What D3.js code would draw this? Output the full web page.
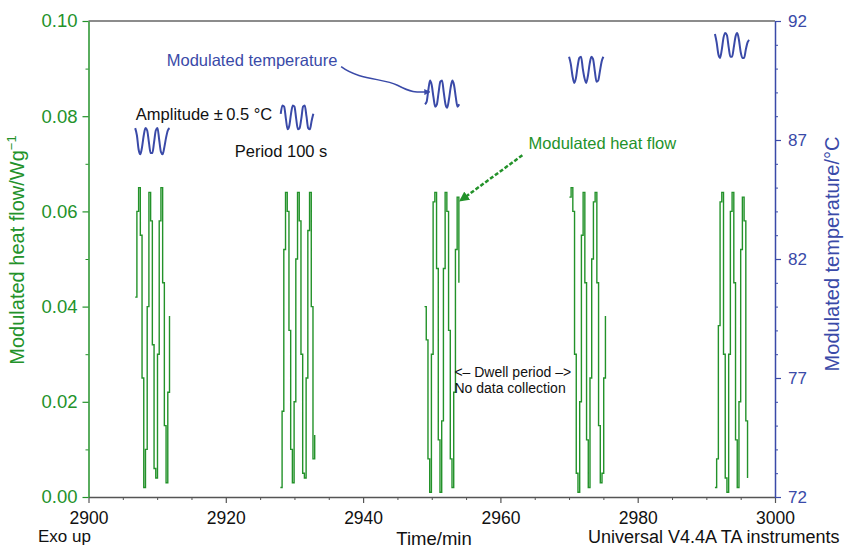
<!DOCTYPE html>
<html>
<head>
<meta charset="utf-8">
<script src="https://cdn.jsdelivr.net/npm/d3@7"></script>
<style>
  body { margin: 0; background: #fff; }
  svg text { font-family: "Liberation Sans", Arial, Helvetica, sans-serif; }
</style>
</head>
<body>
<div id="container"></div>
<script>
// sampling of the traces (min)
const sampleStep = 0.25

// modulated heat flow, one array per isothermal step (W/g)
const heatStart = [2906.8, 2927.95, 2948.95, 2970.05, 2991.25]
const heatFlow = [
  [0.042, 0.060, 0.065, 0.055, 0.025, 0.002, 0.010, 0.040, 0.064, 0.058, 0.032, 0.006, 0.004, 0.030, 0.058, 0.065, 0.045, 0.015, 0.003, 0.022, 0.038],
  [0.002, 0.018, 0.052, 0.064, 0.060, 0.035, 0.010, 0.003, 0.020, 0.050, 0.064, 0.058, 0.030, 0.005, 0.004, 0.025, 0.056, 0.064, 0.040, 0.008, 0.013],
  [0.040, 0.033, 0.008, 0.001, 0.030, 0.062, 0.064, 0.048, 0.012, 0.001, 0.016, 0.048, 0.064, 0.060, 0.035, 0.008, 0.002, 0.022, 0.052, 0.063, 0.045],
  [0.063, 0.065, 0.060, 0.030, 0.005, 0.001, 0.020, 0.055, 0.064, 0.045, 0.012, 0.002, 0.025, 0.050, 0.062, 0.064, 0.045, 0.015, 0.003, 0.005, 0.025, 0.038],
  [0.002, 0.008, 0.036, 0.062, 0.064, 0.030, 0.004, 0.001, 0.030, 0.060, 0.064, 0.045, 0.012, 0.002, 0.020, 0.052, 0.063, 0.058, 0.016, 0.004]
]

// modulated temperature (°C)
const tempStart = [2906.8, 2928.0, 2949.0, 2970.0, 2991.25]
const temperature = [
  [87.5, 87.2, 86.6, 86.4, 86.7, 87.2, 87.5, 87.4, 86.9, 86.45, 86.45, 86.9, 87.4, 87.5, 87.0, 86.5, 86.4, 86.7, 87.1, 87.4, 87.5],
  [88.1, 88.45, 88.4, 87.9, 87.45, 87.6, 88.1, 88.45, 88.4, 87.9, 87.45, 87.5, 87.9, 88.4, 88.45, 88.0, 87.5, 87.45, 87.8, 88.1],
  [88.5, 88.6, 89.1, 89.5, 89.3, 88.8, 88.4, 88.5, 89.0, 89.45, 89.5, 89.0, 88.5, 88.35, 88.7, 89.2, 89.5, 89.3, 88.8, 88.4, 88.5],
  [90.5, 90.2, 89.7, 89.4, 89.6, 90.1, 90.45, 90.5, 90.0, 89.6, 89.4, 89.7, 90.2, 90.5, 90.4, 89.9, 89.45, 89.5, 89.9, 90.3, 90.5],
  [91.45, 91.1, 90.6, 90.45, 90.8, 91.3, 91.5, 91.4, 90.9, 90.5, 90.5, 90.9, 91.35, 91.5, 91.2, 90.7, 90.45, 90.45, 90.8, 91.1, 91.2]
]

const timeTicks = [2900, 2920, 2940, 2960, 2980, 3000]
const timeMinor = [2905, 2910, 2915, 2925, 2930, 2935, 2945, 2950, 2955, 2965, 2970, 2975, 2985, 2990, 2995]
const heatTicks = [0, 0.02, 0.04, 0.06, 0.08, 0.10]
const heatMinor = [0.01, 0.03, 0.05, 0.07, 0.09]
const tempTicks = [72, 77, 82, 87, 92]
const tempMinor = [73, 74, 75, 76, 78, 79, 80, 81, 83, 84, 85, 86, 88, 89, 90, 91]

const green = '#23922a'
const blue = '#3a4aa8'
const width = 847, height = 550

const svg = d3.select('#container').append('svg')
  .attr('width', width)
  .attr('height', height)

const x = d3.scaleLinear().domain([2900, 3000]).range([88.5, 775])
const yH = d3.scaleLinear().domain([0, 0.1]).range([497, 21])
const yT = d3.scaleLinear().domain([72, 92]).range([497, 21])

// top frame line
svg.append('line')
  .attr('x1', x(2900)).attr('x2', x(3000))
  .attr('y1', yH(0.1)).attr('y2', yH(0.1))
  .style('stroke', '#666').style('stroke-width', 1.5)

// bottom axis
const xAxis = svg.append('g')
  .attr('transform', `translate(0 ${yH(0)})`)
  .call(d3.axisBottom(x).tickValues(timeTicks).tickSize(6).tickSizeOuter(0).tickPadding(9).tickFormat(d3.format('d')))
xAxis.select('.domain').style('stroke', '#555').style('stroke-width', 1.5)
xAxis.selectAll('.tick line').style('stroke', '#555').style('stroke-width', 1.2)
xAxis.selectAll('.tick text').style('font-size', '17.5px').style('fill', '#111')
svg.append('g')
  .attr('transform', `translate(0 ${yH(0)})`)
  .call(d3.axisBottom(x).tickValues(timeMinor).tickSize(3).tickFormat(''))
  .call(g => g.select('.domain').remove())
  .selectAll('.tick line').style('stroke', '#555')

// left axis
const leftAxis = svg.append('g')
  .attr('transform', `translate(${x(2900)} 0)`)
  .call(d3.axisLeft(yH).tickValues(heatTicks).tickSize(6).tickSizeOuter(0).tickPadding(5).tickFormat(d3.format('.2f')))
leftAxis.select('.domain').style('stroke', green).style('stroke-width', 1.5)
leftAxis.selectAll('.tick line').style('stroke', green).style('stroke-width', 1.2)
leftAxis.selectAll('.tick text').style('font-size', '18.5px').style('fill', green)
svg.append('g')
  .attr('transform', `translate(${x(2900)} 0)`)
  .call(d3.axisLeft(yH).tickValues(heatMinor).tickSize(3).tickFormat(''))
  .call(g => g.select('.domain').remove())
  .selectAll('.tick line').style('stroke', green)

// right axis
const rightAxis = svg.append('g')
  .attr('transform', `translate(${x(3000)} 0)`)
  .call(d3.axisRight(yT).tickValues(tempTicks).tickSize(6).tickSizeOuter(0).tickPadding(7))
rightAxis.select('.domain').style('stroke', blue).style('stroke-width', 1.5)
rightAxis.selectAll('.tick line').style('stroke', blue).style('stroke-width', 1.2)
rightAxis.selectAll('.tick text').style('font-size', '17px').style('fill', blue)
svg.append('g')
  .attr('transform', `translate(${x(3000)} 0)`)
  .call(d3.axisRight(yT).tickValues(tempMinor).tickSize(3).tickFormat(''))
  .call(g => g.select('.domain').remove())
  .selectAll('.tick line').style('stroke', blue)

// heat flow traces
heatFlow.forEach((vals, k) => {
  const line = d3.line()
    .x((d, i) => x(heatStart[k] + i * sampleStep))
    .y(d => yH(d))
    .curve(d3.curveStepAfter)
  svg.append('path')
    .attr('class', 'heat')
    .attr('d', line(vals))
    .style('fill', 'none')
    .style('stroke', green)
    .style('stroke-width', 1.4)
})

// temperature wiggles
temperature.forEach((vals, k) => {
  const line = d3.line()
    .x((d, i) => x(tempStart[k] + i * sampleStep))
    .y(d => yT(d))
    .curve(d3.curveMonotoneX)
  svg.append('path')
    .attr('class', 'temp')
    .attr('d', line(vals))
    .style('fill', 'none')
    .style('stroke', blue)
    .style('stroke-width', 2)
})

// arrow heads
const defs = svg.append('defs')
defs.append('marker').attr('id', 'ahBlue')
  .attr('viewBox', '0 0 10 10').attr('refX', 9).attr('refY', 5)
  .attr('markerWidth', 4).attr('markerHeight', 4).attr('orient', 'auto')
  .append('path').attr('d', 'M0,0L10,5L0,10z').style('fill', blue)
defs.append('marker').attr('id', 'ahGreen')
  .attr('viewBox', '0 0 10 10').attr('refX', 9).attr('refY', 5)
  .attr('markerWidth', 4).attr('markerHeight', 4).attr('orient', 'auto')
  .append('path').attr('d', 'M0,0L10,5L0,10z').style('fill', green)

// annotations
const note = (tx, ty, txt, col, size) => svg.append('text')
  .attr('x', tx).attr('y', ty).text(txt)
  .style('fill', col).style('font-size', size + 'px')

note(x(2911.4), yT(90.11), 'Modulated temperature', blue, 16.5)
note(x(2906.9), yT(87.84), 'Amplitude \u00b1\u20090.5 \u00b0C', '#111', 16.5)
note(x(2921.3), yT(86.29), 'Period 100 s', '#111', 16.5)
note(x(2964.1), yH(0.0731), 'Modulated heat flow', green, 16.5)
note(x(2953.3), yH(0.0253), '<\u2013 Dwell period \u2013>', '#111', 14)
note(x(2953.3), yH(0.0219), 'No data collection', '#111', 14)

svg.append('path')
  .attr('d', `M${x(2936.8)},${yT(90.08)} C${x(2939.5)},${yT(89.5)} ${x(2943)},${yT(89.6)} ${x(2945)},${yT(89.3)} S${x(2947.5)},${yT(89.0)} ${x(2949.7)},${yT(89.02)}`)
  .style('fill', 'none').style('stroke', blue).style('stroke-width', 1.5)
  .attr('marker-end', 'url(#ahBlue)')

svg.append('line')
  .attr('x1', x(2963.2)).attr('y1', yH(0.0718))
  .attr('x2', x(2954.1)).attr('y2', yH(0.0622))
  .style('stroke', green).style('stroke-width', 2.5)
  .style('stroke-dasharray', '4 2')
  .attr('marker-end', 'url(#ahGreen)')

// axis titles
svg.append('text')
  .attr('transform', 'translate(24 250) rotate(-90)')
  .attr('text-anchor', 'middle')
  .style('fill', green).style('font-size', '20px')
  .text('Modulated heat flow/Wg')
  .append('tspan').attr('dy', -8).style('font-size', '13px').text('\u22121')

svg.append('text')
  .attr('transform', 'translate(839 254) rotate(-90)')
  .attr('text-anchor', 'middle')
  .style('fill', blue).style('font-size', '20px')
  .text('Modulated temperature/\u00b0C')

svg.append('text').attr('x', 434).attr('y', 545).attr('text-anchor', 'middle')
  .style('font-size', '18.5px').style('fill', '#111').text('Time/min')
svg.append('text').attr('x', 38).attr('y', 542)
  .style('font-size', '17px').style('fill', '#111').text('Exo up')
svg.append('text').attr('x', 588).attr('y', 543)
  .style('font-size', '18px').style('fill', '#111').text('Universal V4.4A TA instruments')
</script>
</body>
</html>
